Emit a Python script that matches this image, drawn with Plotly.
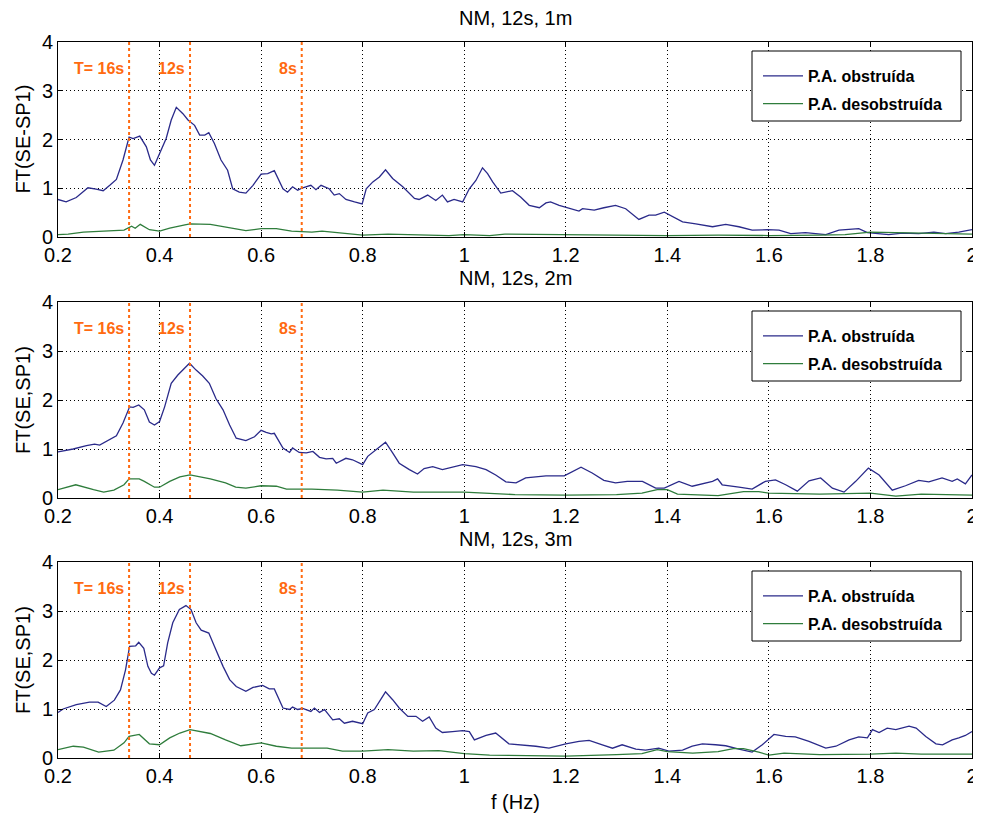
import plotly.graph_objects as go

# ---------------- data ----------------
titles = ["NM, 12s, 1m", "NM, 12s, 2m", "NM, 12s, 3m"]
ylabels = ["FT(SE-SP1)", "FT(SE,SP1)", "FT(SE,SP1)"]
series_names = ["P.A. obstruída", "P.A. desobstruída"]
period_freqs = [0.34, 0.46, 0.68]
period_labels = ["T= 16s", "12s", "8s"]
x_tickvals = [0.2, 0.4, 0.6, 0.8, 1.0, 1.2, 1.4, 1.6, 1.8, 2.0]
x_ticktext = ["0.2", "0.4", "0.6", "0.8", "1", "1.2", "1.4", "1.6", "1.8", "2"]
y_tickvals = [0, 1, 2, 3, 4]
y_ticktext = ["0", "1", "2", "3", "4"]

# panel 1 (1m)
f_obs_1 = [0.200, 0.216, 0.236, 0.259, 0.275, 0.289, 0.302, 0.315, 0.328, 0.340, 0.348, 0.361, 0.374, 0.382,
           0.390, 0.400, 0.413, 0.423, 0.433, 0.446, 0.456, 0.469, 0.479, 0.489, 0.497, 0.508, 0.521, 0.534,
           0.544, 0.557, 0.570, 0.584, 0.600, 0.613, 0.626, 0.643, 0.652, 0.662, 0.672, 0.682, 0.698, 0.708,
           0.718, 0.734, 0.744, 0.754, 0.767, 0.784, 0.799, 0.807, 0.820, 0.833, 0.845, 0.859, 0.879, 0.902,
           0.911, 0.928, 0.944, 0.957, 0.967, 0.980, 0.997, 1.010, 1.023, 1.036, 1.046, 1.056, 1.072, 1.095,
           1.111, 1.128, 1.148, 1.161, 1.170, 1.187, 1.213, 1.226, 1.233, 1.256, 1.275, 1.298, 1.318, 1.344,
           1.364, 1.377, 1.394, 1.410, 1.430, 1.456, 1.489, 1.515, 1.541, 1.567, 1.597, 1.620, 1.643, 1.672,
           1.712, 1.738, 1.758, 1.777, 1.794, 1.817, 1.836, 1.863, 1.895, 1.925, 1.948, 1.974, 2.000]
obs_1 = [0.77, 0.72, 0.81, 1.01, 0.98, 0.95, 1.06, 1.18, 1.58, 2.05, 2.02, 2.07, 1.85, 1.58,
         1.47, 1.71, 2.02, 2.40, 2.66, 2.53, 2.40, 2.29, 2.09, 2.09, 2.14, 1.92, 1.58, 1.37,
         0.99, 0.92, 0.90, 1.06, 1.29, 1.30, 1.36, 0.99, 0.92, 1.03, 0.96, 1.01, 1.06, 0.97,
         1.06, 0.99, 0.86, 0.89, 0.77, 0.72, 0.68, 0.99, 1.13, 1.23, 1.38, 1.20, 1.03, 0.79,
         0.77, 0.86, 0.75, 0.86, 0.72, 0.77, 0.72, 0.99, 1.16, 1.42, 1.30, 1.13, 0.90, 0.95,
         0.82, 0.65, 0.60, 0.70, 0.72, 0.65, 0.56, 0.53, 0.58, 0.55, 0.60, 0.65, 0.58, 0.36,
         0.45, 0.45, 0.51, 0.42, 0.31, 0.27, 0.21, 0.26, 0.21, 0.14, 0.15, 0.14, 0.07, 0.09,
         0.05, 0.14, 0.15, 0.17, 0.09, 0.07, 0.05, 0.08, 0.07, 0.10, 0.07, 0.10, 0.15]
f_des_1 = [0.20, 0.22, 0.25, 0.30, 0.33, 0.345, 0.352, 0.362, 0.38, 0.40, 0.42, 0.45, 0.46, 0.50, 0.53,
           0.57, 0.60, 0.63, 0.66, 0.70, 0.72, 0.76, 0.80, 0.85, 0.90, 0.97, 1.00, 1.05, 1.08, 1.15,
           1.20, 1.30, 1.40, 1.50, 1.60, 1.70, 1.75, 1.80, 1.85, 1.90, 1.95, 2.00]
des_1 = [0.05, 0.06, 0.10, 0.12, 0.14, 0.22, 0.18, 0.26, 0.15, 0.12, 0.18, 0.25, 0.27, 0.26, 0.20,
         0.13, 0.17, 0.17, 0.12, 0.10, 0.12, 0.08, 0.04, 0.06, 0.05, 0.03, 0.05, 0.03, 0.06, 0.05,
         0.05, 0.04, 0.03, 0.04, 0.03, 0.04, 0.05, 0.10, 0.09, 0.08, 0.07, 0.06]

# panel 2 (2m)
f_obs_2 = [0.200, 0.230, 0.256, 0.272, 0.282, 0.295, 0.315, 0.328, 0.341, 0.348, 0.359, 0.370, 0.380, 0.390,
           0.400, 0.410, 0.423, 0.436, 0.449, 0.459, 0.472, 0.485, 0.498, 0.511, 0.525, 0.538, 0.551, 0.570,
           0.587, 0.600, 0.610, 0.620, 0.626, 0.643, 0.656, 0.662, 0.675, 0.689, 0.702, 0.715, 0.728, 0.741,
           0.748, 0.767, 0.780, 0.800, 0.810, 0.826, 0.845, 0.859, 0.872, 0.892, 0.908, 0.921, 0.938, 0.957,
           0.977, 0.997, 1.023, 1.043, 1.062, 1.082, 1.102, 1.121, 1.141, 1.161, 1.197, 1.213, 1.230, 1.252,
           1.275, 1.298, 1.321, 1.351, 1.377, 1.394, 1.423, 1.449, 1.489, 1.499, 1.508, 1.541, 1.567, 1.593,
           1.613, 1.633, 1.656, 1.679, 1.702, 1.725, 1.748, 1.771, 1.796, 1.817, 1.843, 1.869, 1.895, 1.915,
           1.941, 1.961, 1.971, 1.987, 2.000]
obs_2 = [0.94, 1.00, 1.07, 1.10, 1.08, 1.15, 1.27, 1.53, 1.86, 1.85, 1.90, 1.80, 1.55, 1.49,
         1.56, 1.86, 2.34, 2.51, 2.64, 2.75, 2.61, 2.49, 2.34, 2.03, 1.80, 1.49, 1.22, 1.17,
         1.25, 1.38, 1.34, 1.31, 1.32, 1.02, 0.93, 1.02, 0.93, 0.92, 0.95, 0.83, 0.80, 0.81,
         0.71, 0.81, 0.78, 0.68, 0.85, 0.98, 1.14, 0.92, 0.71, 0.58, 0.49, 0.60, 0.64, 0.58,
         0.63, 0.68, 0.64, 0.58, 0.47, 0.33, 0.31, 0.41, 0.43, 0.45, 0.45, 0.54, 0.63, 0.51,
         0.36, 0.31, 0.34, 0.34, 0.20, 0.20, 0.34, 0.24, 0.34, 0.39, 0.27, 0.22, 0.18, 0.34,
         0.37, 0.27, 0.14, 0.35, 0.41, 0.20, 0.12, 0.34, 0.61, 0.47, 0.16, 0.25, 0.36, 0.33,
         0.41, 0.34, 0.39, 0.29, 0.47]
f_des_2 = [0.20, 0.235, 0.27, 0.29, 0.31, 0.33, 0.34, 0.36, 0.37, 0.39, 0.40, 0.42, 0.44, 0.46, 0.50,
           0.53, 0.55, 0.57, 0.60, 0.63, 0.65, 0.70, 0.75, 0.80, 0.84, 0.90, 1.00, 1.05, 1.10, 1.20,
           1.30, 1.35, 1.38, 1.40, 1.42, 1.50, 1.55, 1.58, 1.60, 1.65, 1.70, 1.80, 1.85, 1.90, 2.00]
des_2 = [0.17, 0.27, 0.17, 0.12, 0.16, 0.27, 0.39, 0.39, 0.34, 0.22, 0.22, 0.34, 0.43, 0.47, 0.39,
         0.31, 0.22, 0.20, 0.25, 0.24, 0.18, 0.18, 0.16, 0.12, 0.16, 0.12, 0.12, 0.09, 0.07, 0.06,
         0.07, 0.10, 0.17, 0.17, 0.08, 0.05, 0.13, 0.13, 0.10, 0.09, 0.08, 0.10, 0.04, 0.08, 0.06]

# panel 3 (3m)
f_obs_3 = [0.200, 0.210, 0.236, 0.262, 0.279, 0.295, 0.311, 0.323, 0.333, 0.341, 0.353, 0.359, 0.369, 0.377,
           0.384, 0.390, 0.400, 0.408, 0.416, 0.426, 0.439, 0.452, 0.462, 0.472, 0.482, 0.497, 0.508, 0.525,
           0.538, 0.551, 0.570, 0.584, 0.603, 0.616, 0.626, 0.643, 0.656, 0.662, 0.672, 0.682, 0.698, 0.705,
           0.715, 0.725, 0.741, 0.754, 0.764, 0.780, 0.800, 0.810, 0.823, 0.833, 0.845, 0.859, 0.872, 0.889,
           0.905, 0.918, 0.931, 0.944, 0.957, 0.977, 0.997, 1.010, 1.020, 1.043, 1.062, 1.088, 1.115, 1.141,
           1.167, 1.200, 1.226, 1.246, 1.272, 1.292, 1.311, 1.338, 1.357, 1.383, 1.403, 1.430, 1.449, 1.469,
           1.495, 1.515, 1.541, 1.567, 1.587, 1.610, 1.633, 1.652, 1.679, 1.712, 1.732, 1.758, 1.777, 1.794,
           1.804, 1.817, 1.833, 1.850, 1.876, 1.890, 1.909, 1.929, 1.942, 1.961, 1.974, 1.987, 2.000]
obs_3 = [0.93, 1.00, 1.09, 1.14, 1.14, 1.05, 1.18, 1.39, 1.80, 2.28, 2.29, 2.36, 2.24, 1.87,
         1.73, 1.69, 1.84, 1.88, 2.35, 2.76, 3.03, 3.11, 3.03, 2.76, 2.61, 2.55, 2.28, 1.87,
         1.60, 1.46, 1.36, 1.44, 1.48, 1.41, 1.41, 1.02, 0.99, 1.04, 0.99, 1.01, 0.95, 1.02,
         0.93, 0.99, 0.78, 0.80, 0.71, 0.75, 0.70, 0.92, 0.99, 1.16, 1.35, 1.19, 1.02, 0.85,
         0.85, 0.75, 0.84, 0.61, 0.52, 0.54, 0.56, 0.54, 0.37, 0.46, 0.51, 0.29, 0.27, 0.24,
         0.20, 0.29, 0.34, 0.36, 0.27, 0.20, 0.27, 0.18, 0.16, 0.20, 0.14, 0.16, 0.24, 0.29,
         0.27, 0.25, 0.18, 0.12, 0.27, 0.48, 0.44, 0.43, 0.34, 0.20, 0.24, 0.37, 0.43, 0.41,
         0.58, 0.52, 0.61, 0.58, 0.65, 0.61, 0.44, 0.29, 0.27, 0.37, 0.41, 0.46, 0.54]
f_des_3 = [0.20, 0.23, 0.25, 0.28, 0.31, 0.33, 0.34, 0.36, 0.38, 0.40, 0.42, 0.44, 0.46, 0.50, 0.53,
           0.56, 0.60, 0.63, 0.66, 0.70, 0.73, 0.76, 0.80, 0.85, 0.90, 0.95, 1.00, 1.05, 1.10, 1.20,
           1.30, 1.35, 1.38, 1.40, 1.45, 1.50, 1.53, 1.55, 1.58, 1.60, 1.63, 1.70, 1.80, 1.85, 1.90, 2.00]
des_3 = [0.17, 0.24, 0.22, 0.12, 0.16, 0.31, 0.44, 0.48, 0.29, 0.27, 0.41, 0.51, 0.58, 0.50, 0.37,
         0.25, 0.31, 0.24, 0.20, 0.20, 0.20, 0.14, 0.14, 0.17, 0.14, 0.15, 0.09, 0.06, 0.05, 0.04,
         0.07, 0.09, 0.17, 0.13, 0.10, 0.13, 0.19, 0.19, 0.12, 0.06, 0.10, 0.07, 0.08, 0.10, 0.08, 0.08]

panels = [
    (f_obs_1, obs_1, f_des_1, des_1),
    (f_obs_2, obs_2, f_des_2, des_2),
    (f_obs_3, obs_3, f_des_3, des_3),
]

# ---------------- styling / layout ----------------
OFF = 8                      # default page body margin
W, H = 981 - OFF, 814 - OFF
FONT = "Liberation Sans, Arial, sans-serif"
BLUE = "#2a2a8a"
GREEN = "#2f7d3c"
ORANGE = "#ff6a10"


def px_x(x):
    return (x - OFF) / W


def px_y(y):
    return 1 - (y - OFF) / H


x_dom = [px_x(58), px_x(972)]
y_px = [(42, 237), (302, 498), (562, 758)]
title_px = [18, 278, 539]
legend_top_px = [51, 311, 571]

fig = go.Figure()
layout = dict(
    width=W, height=H, margin=dict(l=0, r=0, t=0, b=0),
    paper_bgcolor="white", plot_bgcolor="white",
    font=dict(family=FONT, color="black"),
    showlegend=True,
)
annotations = []
shapes = []

for i, (fo, yo, fd, yd) in enumerate(panels):
    k = "" if i == 0 else str(i + 1)
    xa, ya = "x" + k, "y" + k
    leg = "legend" + k
    fig.add_trace(go.Scatter(x=fo, y=yo, mode="lines", name=series_names[0], legendgroup="a%d" % i,
                             line=dict(color=BLUE, width=1.3), xaxis=xa, yaxis=ya, legend=leg))
    fig.add_trace(go.Scatter(x=fd, y=yd, mode="lines", name=series_names[1], legendgroup="b%d" % i,
                             line=dict(color=GREEN, width=1.3), xaxis=xa, yaxis=ya, legend=leg))
    top, bot = y_px[i]
    dom = [px_y(bot), px_y(top)]
    axis_common = dict(showline=True, linecolor="black", linewidth=1, mirror="ticks",
                       ticks="inside", ticklen=5, tickcolor="black",
                       showgrid=True, gridcolor="black", gridwidth=1, griddash="1px,3px",
                       zeroline=False, tickfont=dict(family=FONT, size=20, color="black"),
                       automargin=False, fixedrange=True)
    layout["xaxis" + k] = dict(axis_common, domain=x_dom, range=[0.2, 2.0], anchor=ya,
                               tickvals=x_tickvals, ticktext=x_ticktext,
                               ticklabeloverflow="allow")
    layout["yaxis" + k] = dict(axis_common, domain=dom, range=[0, 4], anchor=xa,
                               tickvals=y_tickvals, ticktext=y_ticktext)
    # legend box frame
    lt = legend_top_px[i]
    shapes.append(dict(type="rect", xref="paper", yref="paper", layer="above",
                       x0=px_x(752), x1=px_x(961), y0=px_y(lt + 70), y1=px_y(lt),
                       line=dict(color="black", width=1), fillcolor="white"))
    layout[leg] = dict(x=px_x(758), y=px_y(lt + 8), xanchor="left", yanchor="top",
                       xref="paper", yref="paper",
                       bgcolor="rgba(0,0,0,0)", borderwidth=0,
                       font=dict(family=FONT, size=16, color="black", weight="bold"),
                       itemwidth=40, tracegroupgap=4, traceorder="grouped")
    # title
    annotations.append(dict(text=titles[i], x=(x_dom[0] + x_dom[1]) / 2, y=px_y(title_px[i]),
                            xref="paper", yref="paper", xanchor="center", yanchor="middle",
                            showarrow=False, font=dict(family=FONT, size=20, color="black")))
    # y label
    annotations.append(dict(text=ylabels[i], x=px_x(23), y=px_y((top + bot) / 2),
                            xref="paper", yref="paper", xanchor="center", yanchor="middle",
                            textangle=-90, showarrow=False,
                            font=dict(family=FONT, size=20, color="black")))
    # period markers
    for fx, lab in zip(period_freqs, period_labels):
        shapes.append(dict(type="line", xref=xa, yref=ya + " domain", x0=fx, x1=fx, y0=0, y1=1,
                           line=dict(color=ORANGE, width=2, dash="dot")))
        annotations.append(dict(text=lab, x=fx, y=3.45, xref=xa, yref=ya, xanchor="right",
                                yanchor="middle", xshift=-3, showarrow=False,
                                font=dict(family=FONT, size=16, color=ORANGE, weight="bold")))

annotations.append(dict(text="f (Hz)", x=(x_dom[0] + x_dom[1]) / 2, y=px_y(802),
                        xref="paper", yref="paper", xanchor="center", yanchor="middle",
                        showarrow=False, font=dict(family=FONT, size=20, color="black")))

layout["annotations"] = annotations
layout["shapes"] = shapes
fig.update_layout(**layout)
fig.write_html("out.html")
